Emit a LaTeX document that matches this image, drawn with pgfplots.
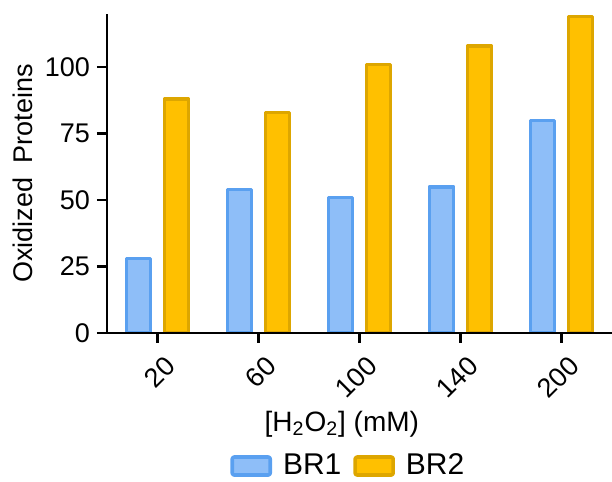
\documentclass[border=0pt]{standalone}
\usepackage{fontspec}
\setmainfont{Liberation Sans}
\usepackage{pgfplots}
\pgfplotsset{compat=1.18}
\definecolor{bfill}{HTML}{8EBEF8}
\definecolor{bedge}{HTML}{5AA0F0}
\definecolor{gfill}{HTML}{FFC000}
\definecolor{gedge}{HTML}{DDA600}
\begin{document}
\begin{tikzpicture}
\useasboundingbox (-53.5pt,-74.5pt) rectangle (252.5pt,166.5pt);
\begin{axis}[
  at={(0,0)}, anchor=south west,
  scale only axis, width=252.5pt, height=159.5pt,
  xmin=-0.5, xmax=4.5, ymin=0, ymax=120,
  axis x line*=bottom, axis y line*=left,
  axis line style={line width=1.25pt},
  every tick/.style={black, line width=1.25pt},
  tick align=outside, major tick length=5pt,
  xtick={0,1,2,3,4}, xticklabels={20,60,100,140,200},
  ytick={0,25,50,75,100},
  /pgf/number format/assume math mode=true,
  tick label style={font=\fontsize{13.5}{15}\selectfont},
  xticklabel style={rotate=45, anchor=east, xshift=1.5pt, yshift=-11pt, font=\fontsize{13.5}{15}\selectfont},
  ybar=7pt, bar width=12pt,
  axis on top,
  xlabel={[H\textsubscript{2}O\textsubscript{2}] (mM)},
  xlabel style={at={(axis description cs:0.465,-0.285)}, anchor=center, font=\fontsize{14}{16}\selectfont},
  ylabel={Oxidized\hspace{0.55em}Proteins},
  ylabel style={at={(axis description cs:-0.166,0.5)}, anchor=center, font=\fontsize{13.5}{16}\selectfont},
  legend style={at={(axis description cs:0.48,-0.417)}, anchor=center, draw=none, fill=none,
    legend columns=2, font=\fontsize{15}{17}\selectfont,
    /tikz/every odd column/.append style={column sep=3.5pt},
    /tikz/every even column/.append style={column sep=4pt}},
  legend image code/.code={\draw[#1, line width=1.8pt, rounded corners=1pt] (0pt,-4.5pt) rectangle (19pt,4.5pt);},
]
\addplot[fill=bfill, draw=bedge, line width=1.8pt, line join=round] coordinates {(0,28) (1,54) (2,51) (3,55) (4,80)};
\addplot[fill=gfill, draw=gedge, line width=1.8pt, line join=round] coordinates {(0,88) (1,83) (2,101) (3,108) (4,119)};
\legend{BR1,BR2}
\end{axis}
\end{tikzpicture}
\end{document}
